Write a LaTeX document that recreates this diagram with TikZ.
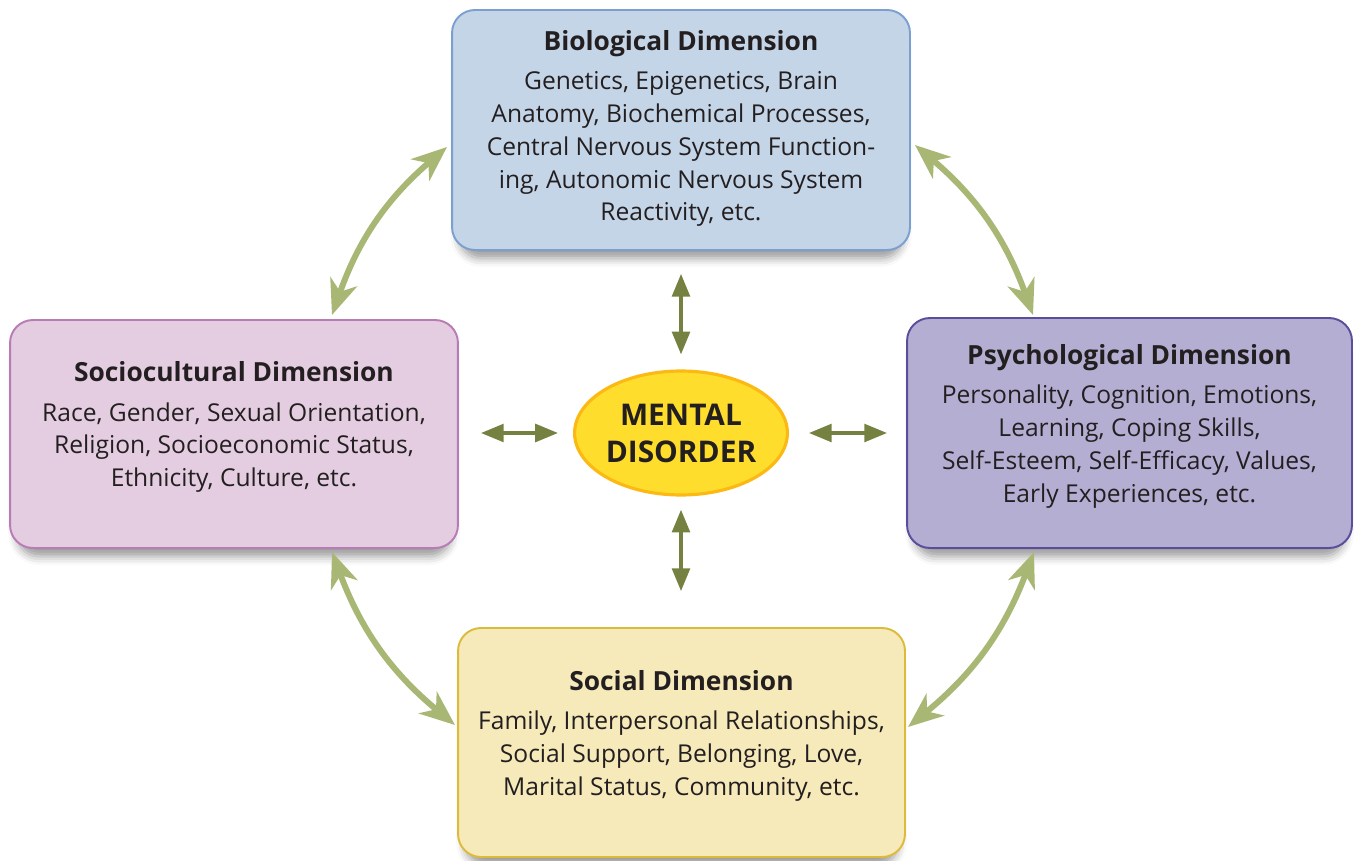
\documentclass[tikz,border=0pt]{standalone}
\usepackage{fontspec}
\setmainfont{Open Sans}
\usetikzlibrary{arrows.meta,shapes.geometric,shadows.blur}

\definecolor{bioFill}{HTML}{C5D5E8}
\definecolor{bioLine}{HTML}{7BA0CF}
\definecolor{socioFill}{HTML}{E4CDE1}
\definecolor{socioLine}{HTML}{B97BB5}
\definecolor{psyFill}{HTML}{B5AED3}
\definecolor{psyLine}{HTML}{5A4D9C}
\definecolor{socFill}{HTML}{F6E9BA}
\definecolor{socLine}{HTML}{DDBB3A}
\definecolor{mdFill}{HTML}{FFDD2C}
\definecolor{mdLine}{HTML}{FDB913}
\definecolor{linkGreen}{HTML}{A9B775}
\definecolor{coreGreen}{HTML}{748140}
\definecolor{txt}{HTML}{231F20}

\newcommand{\dimtitle}[1]{{\fontsize{15}{18}\selectfont\bfseries #1}\\[3.6pt]}

\tikzset{
  dimbox/.style={rectangle, rounded corners=13pt, line width=1.1pt, align=center,
    text=txt, font=\fontsize{14}{18.7}\selectfont, text depth=11pt,
    blur shadow={shadow xshift=0pt, shadow yshift=-7pt, shadow blur radius=5pt,
      shadow opacity=40, shadow scale=0.97}},
  linkarr/.style={draw=linkGreen, line width=3.4pt,
    {Stealth[length=20pt, width=16pt, inset=6pt]}-{Stealth[length=20pt, width=16pt, inset=6pt]}},
  corearr/.style={draw=coreGreen, line width=2.2pt,
    {Triangle[length=13pt, width=10pt]}-{Triangle[length=13pt, width=10pt]}}
}

\begin{document}
\begin{tikzpicture}[x=0.02cm, y=-0.02cm]
  \useasboundingbox (0,0) rectangle (1354,861);

  \node[dimbox, fill=bioFill, draw=bioLine, minimum width=9.16cm, minimum height=4.8cm,
    text depth=5pt] (bio) at (681,130)
    {\dimtitle{Biological Dimension}
     Genetics, Epigenetics, Brain\\
     Anatomy, Biochemical Processes,\\
     Central Nervous System Function-\\
     ing, Autonomic Nervous System\\
     Reactivity, etc.};
  \node[dimbox, fill=socioFill, draw=socioLine, minimum width=8.96cm, minimum height=4.56cm]
    (socio) at (234,434)
    {\dimtitle{Sociocultural Dimension}
     Race, Gender, Sexual Orientation,\\
     Religion, Socioeconomic Status,\\
     Ethnicity, Culture, etc.};
  \node[dimbox, fill=psyFill, draw=psyLine, minimum width=8.9cm, minimum height=4.6cm]
    (psy) at (1129.5,433)
    {\dimtitle{Psychological Dimension}
     Personality, Cognition, Emotions,\\
     Learning, Coping Skills,\\
     Self-Esteem, Self-Efficacy, Values,\\
     Early Experiences, etc.};
  \node[dimbox, fill=socFill, draw=socLine, minimum width=8.94cm, minimum height=4.58cm]
    (soc) at (681.5,742.5)
    {\dimtitle{Social Dimension}
     Family, Interpersonal Relationships,\\
     Social Support, Belonging, Love,\\
     Marital Status, Community, etc.};

  \node[ellipse, fill=mdFill, draw=mdLine, line width=1.8pt, inner sep=0pt,
    minimum width=4.16cm, minimum height=2.48cm, align=center, text=txt,
    font=\fontsize{17}{21}\selectfont\bfseries] (md) at (681,433) {MENTAL\\DISORDER};

  \draw[corearr, shorten <=8.5pt, shorten >=13pt] (md.north) -- (md.north |- bio.south);
  \draw[corearr, shorten <=7.4pt, shorten >=20.4pt] (md.south) -- (md.south |- soc.north);
  \draw[corearr, shorten <=8.5pt, shorten >=12.5pt] (md.west) -- (md.west -| socio.east);
  \draw[corearr, shorten <=11.3pt, shorten >=10.8pt] (md.east) -- (md.east -| psy.west);

  \coordinate (bioL) at (447,147);
  \coordinate (bioR) at (915,145);
  \coordinate (socioT) at (332,315);
  \coordinate (socioB) at (332,552);
  \coordinate (psyT) at (1033,315);
  \coordinate (psyB) at (1034,552);
  \coordinate (socL) at (455,725);
  \coordinate (socR) at (908,727);

  \draw[linkarr] (bioL) to[bend right=15] (socioT);
  \draw[linkarr] (bioR) to[bend left=15] (psyT);
  \draw[linkarr] (socioB) to[bend right=15] (socL);
  \draw[linkarr] (psyB) to[bend left=15] (socR);
\end{tikzpicture}
\end{document}
